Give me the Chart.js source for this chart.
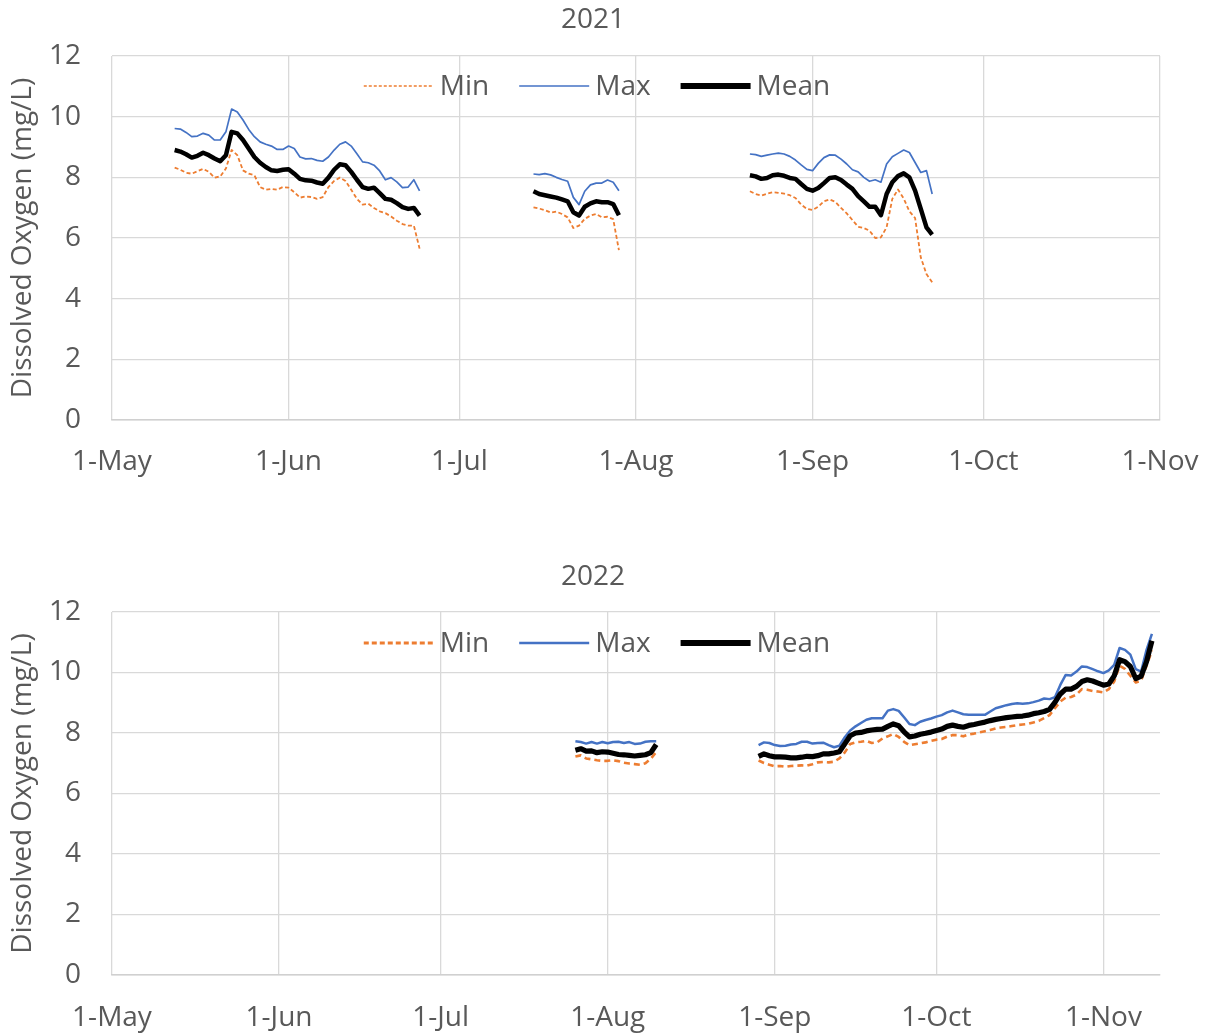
<!DOCTYPE html>
<html><head><meta charset="utf-8">
<script src="https://cdn.jsdelivr.net/npm/chart.js@4.4.1/dist/chart.umd.min.js"></script>
<style>
html,body{margin:0;padding:0;background:#fff;}
#wrap{position:relative;width:1214px;height:1035px;overflow:hidden;background:#fff;}
.box{position:absolute;left:0;width:1214px;}
#b1{top:0;height:500px;}
#b2{top:545px;height:490px;}
</style></head><body>
<div id="wrap">
<div class="box" id="b1"><canvas id="c1"></canvas></div>
<div class="box" id="b2"><canvas id="c2"></canvas></div>
</div>
<script>
// ---- tick labels ----
const monthTickLabels = ['1-May','1-Jun','1-Jul','1-Aug','1-Sep','1-Oct','1-Nov'];
const monthTickDates = ['05-01','06-01','07-01','08-01','09-01','10-01','11-01'];
const seriesNames = ['Min','Max','Mean'];
const yTicks = [0,2,4,6,8,10,12];

// ---- 2021: daily values, one inner list per continuous record ----
const segStart2021 = ['2021-05-12','2021-07-14','2021-08-21'];
const min2021 = [
 [8.32,8.25,8.15,8.12,8.20,8.28,8.18,7.99,8.03,8.29,8.90,8.73,8.23,8.12,8.07,7.68,7.59,7.62,7.59,7.68,7.66,7.51,7.33,7.37,7.35,7.29,7.35,7.68,7.88,7.99,7.88,7.59,7.29,7.10,7.13,6.99,6.88,6.82,6.71,6.57,6.46,6.41,6.41,5.65],
 [7.01,6.97,6.92,6.84,6.87,6.79,6.68,6.33,6.41,6.63,6.74,6.79,6.68,6.70,6.62,5.60],
 [7.54,7.45,7.40,7.46,7.51,7.49,7.46,7.41,7.32,7.10,6.96,6.92,7.03,7.21,7.27,7.19,6.99,6.81,6.59,6.37,6.33,6.24,6.00,6.02,6.35,7.29,7.60,7.30,6.88,6.66,5.36,4.81,4.54]
];
const max2021 = [
 [9.61,9.59,9.48,9.34,9.36,9.45,9.39,9.23,9.23,9.50,10.25,10.15,9.89,9.58,9.34,9.17,9.09,9.03,8.92,8.92,9.03,8.95,8.67,8.61,8.62,8.56,8.53,8.67,8.90,9.09,9.17,9.03,8.78,8.51,8.48,8.40,8.21,7.92,7.99,7.85,7.66,7.68,7.92,7.55],
 [8.11,8.09,8.12,8.08,8.00,7.93,7.87,7.34,7.10,7.54,7.75,7.81,7.81,7.91,7.84,7.56],
 [8.77,8.75,8.69,8.73,8.77,8.80,8.77,8.69,8.57,8.41,8.26,8.22,8.46,8.65,8.74,8.73,8.60,8.44,8.25,8.18,8.00,7.87,7.92,7.84,8.44,8.68,8.79,8.90,8.82,8.49,8.16,8.22,7.45]
];
const mean2021 = [
 [8.90,8.85,8.76,8.65,8.71,8.81,8.73,8.62,8.53,8.73,9.50,9.45,9.23,8.95,8.67,8.48,8.34,8.23,8.21,8.25,8.27,8.12,7.95,7.90,7.89,7.83,7.79,7.99,8.25,8.43,8.40,8.18,7.92,7.68,7.62,7.66,7.48,7.29,7.26,7.15,7.02,6.96,6.99,6.74],
 [7.54,7.45,7.41,7.37,7.33,7.27,7.21,6.85,6.74,7.03,7.14,7.21,7.18,7.18,7.12,6.75],
 [8.07,8.03,7.95,7.98,8.07,8.09,8.05,7.98,7.95,7.78,7.62,7.56,7.65,7.81,7.98,8.00,7.91,7.76,7.62,7.38,7.21,7.03,7.03,6.75,7.45,7.84,8.04,8.13,8.00,7.56,6.96,6.35,6.11]
];

// ---- 2022 ----
const segStart2022 = ['2022-07-26','2022-08-29'];
const min2022 = [
 [7.22,7.26,7.16,7.13,7.10,7.08,7.08,7.10,7.07,7.02,6.99,6.97,6.95,7.00,7.15,7.37],
 [7.09,7.01,6.95,6.90,6.91,6.88,6.91,6.92,6.93,6.92,6.97,7.03,7.04,7.03,7.05,7.16,7.36,7.64,7.69,7.71,7.74,7.67,7.69,7.82,7.89,7.97,7.87,7.71,7.60,7.63,7.66,7.69,7.74,7.78,7.80,7.88,7.93,7.93,7.89,
  7.95,7.98,8.02,8.06,8.10,8.15,8.18,8.20,8.23,8.26,8.28,8.30,8.35,8.40,8.49,8.59,8.82,9.04,9.17,9.19,9.27,9.45,9.43,9.39,9.37,9.34,9.45,9.70,10.22,10.12,9.89,9.67,9.73,10.22,10.73]
];
const max2022 = [
 [7.73,7.70,7.65,7.70,7.65,7.70,7.66,7.70,7.71,7.67,7.70,7.64,7.65,7.71,7.73,7.73],
 [7.60,7.69,7.67,7.60,7.57,7.58,7.62,7.64,7.71,7.71,7.65,7.67,7.68,7.60,7.53,7.58,7.86,8.08,8.22,8.33,8.44,8.49,8.49,8.49,8.74,8.79,8.73,8.52,8.30,8.26,8.37,8.43,8.48,8.54,8.59,8.68,8.74,8.68,8.62,
  8.60,8.60,8.60,8.60,8.71,8.82,8.87,8.92,8.96,8.98,8.97,8.98,9.02,9.07,9.14,9.12,9.18,9.59,9.92,9.90,10.03,10.20,10.18,10.11,10.04,9.98,10.07,10.25,10.81,10.75,10.59,10.11,10.03,10.75,11.28]
];
const mean2022 = [
 [7.43,7.48,7.40,7.41,7.35,7.38,7.37,7.33,7.29,7.28,7.26,7.24,7.26,7.28,7.35,7.62],
 [7.23,7.31,7.25,7.21,7.21,7.20,7.18,7.18,7.20,7.23,7.22,7.25,7.31,7.31,7.34,7.38,7.64,7.91,8.00,8.02,8.07,8.10,8.12,8.13,8.22,8.30,8.24,8.04,7.87,7.90,7.96,7.99,8.03,8.08,8.13,8.22,8.26,8.22,8.19,
  8.25,8.28,8.32,8.36,8.41,8.45,8.48,8.51,8.53,8.55,8.56,8.59,8.64,8.67,8.71,8.78,9.01,9.29,9.45,9.45,9.54,9.70,9.76,9.72,9.65,9.58,9.62,9.89,10.42,10.36,10.20,9.80,9.88,10.36,11.05]
];

// ---- helpers ----
const FONT = "'Open Sans', 'Liberation Sans', sans-serif";
const FS = 28;
const TXT = '#595959';
const GRID = '#d9d9d9';
function dayOfSeason(dateStr) {
  const [y, m, d] = dateStr.split('-').map(Number);
  return Math.round((Date.UTC(y, m - 1, d) - Date.UTC(y, 4, 1)) / 86400000);
}
function buildPoints(starts, segs) {
  const pts = [];
  segs.forEach((vals, s) => {
    const d0 = dayOfSeason(starts[s]);
    vals.forEach((v, i) => pts.push({ x: d0 + i, y: v }));
    if (s < segs.length - 1) pts.push({ x: d0 + vals.length - 0.5, y: null });
  });
  return pts;
}

const insideLegend = {
  id: 'insideLegend',
  afterDraw(chart, args, o) {
    if (!o || !o.items) return;
    const ctx = chart.ctx, ca = chart.chartArea;
    const y = ca.top + o.dy;
    ctx.save();
    ctx.font = FS + 'px ' + FONT;
    ctx.textBaseline = 'middle';
    ctx.textAlign = 'left';
    const ds = o.items.map(i => chart.data.datasets[i]);
    const widths = ds.map(d => ctx.measureText(d.label).width);
    let total = 0;
    widths.forEach((w, k) => { total += o.lineLen + o.gapT + w + (k < widths.length - 1 ? o.gapI : 0); });
    let x = o.cx - total / 2;
    ds.forEach((d, k) => {
      ctx.beginPath();
      ctx.strokeStyle = d.borderColor;
      ctx.lineWidth = o.widths[k];
      ctx.setLineDash(o.dashes[k]);
      ctx.lineCap = 'butt';
      ctx.moveTo(x, y); ctx.lineTo(x + o.lineLen, y);
      ctx.stroke();
      ctx.setLineDash([]);
      x += o.lineLen + o.gapT;
      ctx.fillStyle = TXT;
      ctx.fillText(d.label, x, y + 1);
      x += widths[k] + o.gapI;
    });
    ctx.restore();
  }
};

function makeChart(id, title, starts, mins, maxs, means, xMax, st) {
  const year = starts[0].slice(0, 4);
  const tickDays = monthTickDates.map(md => dayOfSeason(year + '-' + md));
  return new Chart(document.getElementById(id), {
    type: 'line',
    data: {
      datasets: [
        { label: seriesNames[0], data: buildPoints(starts, mins), borderColor: '#ED7D31', borderWidth: st.minW, borderDash: st.minDash, order: 2 },
        { label: seriesNames[1], data: buildPoints(starts, maxs), borderColor: '#4472C4', borderWidth: st.maxW, order: 1 },
        { label: seriesNames[2], data: buildPoints(starts, means), borderColor: '#000000', borderWidth: st.meanW, order: 0 }
      ]
    },
    options: {
      responsive: true, maintainAspectRatio: false, animation: false,
      spanGaps: false,
      elements: { point: { radius: 0 }, line: { tension: 0, borderJoinStyle: 'round', borderCapStyle: 'butt', fill: false } },
      layout: { padding: { left: 0, right: 28, top: 0, bottom: 0 } },
      plugins: {
        legend: { display: false },
        tooltip: { enabled: false },
        title: { display: true, text: title, color: TXT, font: { family: FONT, size: FS, weight: 'normal' }, padding: { top: st.titleTop, bottom: st.titleBottom } },
        insideLegend: { items: [0, 1, 2], dy: st.legDy, cx: 597, lineLen: 70, gapT: 6, gapI: 30, widths: st.legW, dashes: st.legDash }
      },
      scales: {
        x: {
          type: 'linear', min: 0, max: xMax,
          afterBuildTicks: s => { s.ticks = tickDays.map(v => ({ value: v })); },
          afterFit: s => { s.height = st.xAxisH; s.paddingRight = 54; },
          ticks: { autoSkip: false, maxRotation: 0, padding: st.xPad, color: TXT, font: { family: FONT, size: FS },
                   callback: v => { const i = tickDays.indexOf(v); return i >= 0 ? monthTickLabels[i] : ''; } },
          grid: { color: GRID, lineWidth: 1.3, drawTicks: false },
          border: { display: true, color: '#d0d0d0', width: 1.5 }
        },
        y: {
          min: 0, max: 12,
          afterBuildTicks: s => { s.ticks = yTicks.map(v => ({ value: v })); },
          afterFit: s => { s.width = 112; },
          ticks: { padding: 31, color: TXT, font: { family: FONT, size: FS } },
          grid: { color: GRID, lineWidth: 1.3, drawTicks: false },
          border: { display: false },
          title: { display: true, text: 'Dissolved Oxygen (mg/L)', color: TXT, font: { family: FONT, size: FS }, padding: { top: 6, bottom: 0 } }
        }
      }
    },
    plugins: [insideLegend]
  });
}

makeChart('c1', '2021', segStart2021, min2021, max2021, mean2021, 184, {
  minW: 1.8, minDash: [4, 2.5], maxW: 1.7, meanW: 4.5,
  titleTop: 3, titleBottom: 19.4, xAxisH: 80, xPad: 25, legDy: 30,
  legW: [1.6, 1.6, 6], legDash: [[3, 2], [], []]
});
makeChart('c2', '2022', segStart2022, min2022, max2022, mean2022, 194.5, {
  minW: 2.6, minDash: [6, 4], maxW: 2.5, meanW: 5.2,
  titleTop: 15, titleBottom: 18.4, xAxisH: 60, xPad: 26, legDy: 31,
  legW: [3, 2.5, 6], legDash: [[5, 3], [], []]
});
</script>
</body></html>
